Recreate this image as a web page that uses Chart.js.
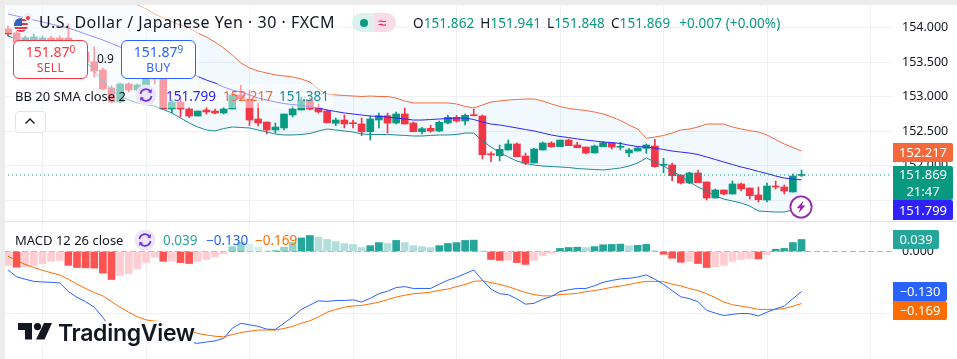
<!DOCTYPE html>
<html>
<head>
<meta charset="utf-8">
<script src="https://cdn.jsdelivr.net/npm/chart.js@4/dist/chart.umd.min.js"></script>
<style>
  html, body { margin: 0; padding: 0; background: #fff; }
  body { width: 957px; height: 359px; position: relative; overflow: hidden; font-family: "Noto Sans", sans-serif; color: #131722; }
  canvas { position: absolute; display: block; }
  .abs { position: absolute; white-space: nowrap; }
  .veil { position: absolute; background: rgba(255, 255, 255, 0.5); }
  .tag { position: absolute; left: 893px; color: #fff; font-size: 13px; text-align: center; border-radius: 0 2px 2px 0; }
  .trade { position: absolute; top: 40px; width: 73px; background: #fff; border-radius: 6px; text-align: center; border: 1px solid; font-size: 14px; line-height: 16px; padding-top: 3px; height: 34px; }
  .trade sup { font-size: 10px; line-height: 0; vertical-align: 4px; }
  .trade small { display: block; font-size: 12px; line-height: 16px; letter-spacing: 0.4px; }
</style>
</head>
<body>
<canvas id="priceChart" width="953" height="216" style="left:4px;top:5px"></canvas>
<canvas id="macdChart" width="953" height="137" style="left:4px;top:222px"></canvas>

<div class="abs" style="left:0;top:0;width:957px;height:5px;background:#ececec"></div>
<div class="abs" style="left:0;top:0;width:5px;height:359px;background:#ececec"></div>
<div class="abs" style="left:4px;top:221px;width:953px;height:1px;background:#e0e3eb"></div>

<div class="veil" style="left:5px;top:5px;width:340px;height:28px"></div>
<div class="veil" style="left:12px;top:33px;width:187px;height:51px"></div>
<div class="veil" style="left:12px;top:84px;width:321px;height:24px"></div>
<div class="veil" style="left:12px;top:229px;width:286px;height:22px"></div>

<svg class="abs" style="left:12px;top:11px" width="26" height="24" viewBox="0 0 26 24">
  <defs><clipPath id="flagClip"><circle cx="9" cy="14" r="7"/></clipPath></defs>
  <circle cx="16" cy="7" r="5" fill="#eee" /><circle cx="16" cy="7" r="2" fill="#e8334a"/>
  <circle cx="9" cy="14" r="7.6" fill="#fff"/>
  <g clip-path="url(#flagClip)">
    <rect x="2" y="7" width="14" height="14" fill="#fff"/>
    <rect x="2" y="8" width="14" height="2" fill="#e8334a"/>
    <rect x="2" y="12" width="14" height="2" fill="#e8334a"/>
    <rect x="2" y="16" width="14" height="2" fill="#e8334a"/>
    <rect x="2" y="19" width="14" height="2" fill="#e8334a"/>
    <rect x="2" y="7" width="8" height="8" fill="#2f62c8"/>
  </g>
</svg>
<div class="abs" id="title" style="left:39px;top:12px;font-size:16px;line-height:21px;letter-spacing:0.5px"></div>
<div class="abs" style="left:352px;top:13px;width:22px;height:19px;background:#daf1ed;border-radius:10px 0 0 10px"></div>
<div class="abs" style="left:374px;top:13px;width:22px;height:19px;background:#fbdbe5;border-radius:0 10px 10px 0"></div>
<div class="abs" style="left:360px;top:19px;width:8px;height:8px;background:#089981;border-radius:50%"></div>
<div class="abs" style="left:378px;top:11px;font-size:15px;line-height:22px;color:#e91e63">≈</div>
<div class="abs" id="ohlc" style="left:413px;top:13px;font-size:13.5px;line-height:20px;letter-spacing:0.1px"></div>

<div class="trade" id="sellBox" style="left:13px;border-color:#f23645;color:#f23645"></div>
<div class="abs" id="spread" style="left:97px;top:51px;font-size:12px;line-height:16px"></div>
<div class="trade" id="buyBox" style="left:121px;border-color:#2962ff;color:#2962ff"></div>

<div class="abs" id="bbName" style="left:15px;top:86px;font-size:13px;line-height:20px"></div>
<svg class="abs" style="left:135px;top:84px" width="22" height="22" viewBox="0 0 22 22">
  <circle cx="11" cy="11" r="10.5" fill="#ece6fb"/>
  <path d="M5.5 10 A5.6 5.6 0 0 1 15.6 7.6 M16.5 12 A5.6 5.6 0 0 1 6.4 14.4" fill="none" stroke="#6f2fe8" stroke-width="1.7"/>
  <path d="M16.8 5 L16.6 9.2 L12.9 8.2 Z M5.2 17 L5.4 12.8 L9.1 13.8 Z" fill="#6f2fe8"/>
</svg>
<div class="abs" id="bbMid" style="left:166px;top:86px;font-size:13.5px;line-height:20px;color:#2f22ff"></div>
<div class="abs" id="bbUp" style="left:223px;top:86px;font-size:13.5px;line-height:20px;color:#f4693c"></div>
<div class="abs" id="bbLow" style="left:279px;top:86px;font-size:13.5px;line-height:20px;color:#1b8a98"></div>
<div class="abs" style="left:15px;top:111px;width:29px;height:20px;border:1px solid #e0e3eb;border-radius:4px;background:#fff"></div>
<svg class="abs" style="left:24px;top:117px" width="12" height="8" viewBox="0 0 12 8"><path d="M1.5 6.5 L6 2 L10.5 6.5" fill="none" stroke="#131722" stroke-width="1.4"/></svg>

<svg class="abs" style="left:789px;top:195px" width="24" height="24" viewBox="0 0 24 24">
  <circle cx="12" cy="12" r="10.6" fill="#fff" stroke="#9c27b0" stroke-width="1.8"/>
  <path d="M14.5 5.8 L7.6 13.3 L11.2 13.3 L9.5 18.2 L16.4 10.6 L12.8 10.6 Z" fill="#9c27b0"/>
</svg>

<div class="abs" id="macdName" style="left:15px;top:230px;font-size:13px;line-height:20px"></div>
<svg class="abs" style="left:134px;top:229px" width="22" height="22" viewBox="0 0 22 22">
  <circle cx="11" cy="11" r="10.5" fill="#ece6fb"/>
  <path d="M5.5 10 A5.6 5.6 0 0 1 15.6 7.6 M16.5 12 A5.6 5.6 0 0 1 6.4 14.4" fill="none" stroke="#6f2fe8" stroke-width="1.7"/>
  <path d="M16.8 5 L16.6 9.2 L12.9 8.2 Z M5.2 17 L5.4 12.8 L9.1 13.8 Z" fill="#6f2fe8"/>
</svg>
<div class="abs" id="histVal" style="left:163px;top:230px;font-size:13.5px;line-height:20px;color:#26a69a"></div>
<div class="abs" id="macdVal" style="left:206px;top:230px;font-size:13.5px;line-height:20px;color:#2962ff"></div>
<div class="abs" id="signalVal" style="left:255px;top:230px;font-size:13.5px;line-height:20px;color:#ff6d00"></div>

<div class="abs" style="left:16px;top:321px;width:178px;height:25px;background:#fff"></div>
<svg class="abs" style="left:18px;top:323px" width="34" height="17" viewBox="0 0 34 17">
  <path d="M0 0 H14 V16.5 H7 V7 H0 Z" fill="#131722"/><circle cx="19.5" cy="3.6" r="3.6" fill="#131722"/>
  <path d="M26 0 H34 L26.5 16.5 H18 Z" fill="#131722"/>
</svg>
<div class="abs" id="brand" style="left:58px;top:318px;font-family:Inter,'Noto Sans',sans-serif;font-weight:600;font-size:23px;line-height:30px;letter-spacing:-0.3px;color:#131722"></div>

<div class="tag" id="tagUp" style="top:143px;width:60px;height:19px;line-height:19px;background:#f4693c"></div>
<div class="tag" id="tagLast" style="top:166px;width:60px;height:34px;line-height:17px;background:#089981"></div>
<div class="tag" id="tagMid" style="top:200px;width:60px;height:20px;line-height:20px;background:#2f22ff"></div>
<div class="tag" id="tagHist" style="top:230px;width:46px;height:19px;line-height:19px;background:#26a69a"></div>
<div class="tag" id="tagMacd" style="top:282px;width:54px;height:19px;line-height:19px;background:#2962ff"></div>
<div class="tag" id="tagSignal" style="top:301px;width:54px;height:19px;line-height:19px;background:#ff6d00"></div>

<script>
const titleText = "U.S. Dollar / Japanese Yen · 30 · FXCM";
const bbName = "BB 20 SMA close 2";
const macdName = "MACD 12 26 close";
const countdown = "21:47";
const sellPrice = "151.87", sellPip = "0";
const buyPrice = "151.87", buyPip = "9";
const spreadText = "0.9";

const priceTicks = [154, 153.5, 153, 152.5, 152, 151.5];
const macdTicks = [0, -0.2];
// one vertical grid line every 12 bars
const gridBars = [4, 16, 28, 40, 52, 64, 76, 88, 100];

const opens = [
  153.978,153.921,153.819,153.819,153.819,153.848,153.848,153.848,153.733,153.646,
  153.506,153.386,153.126,152.923,153.184,153.097,153.155,153.285,153.285,152.822,
  152.923,152.822,152.721,152.808,152.793,152.764,152.822,153.025,152.967,152.678,
  152.634,152.519,152.548,152.736,152.808,152.952,152.837,152.793,152.616,152.663,
  152.624,152.606,152.494,152.663,152.725,152.62,152.75,152.62,152.494,152.544,
  152.504,152.62,152.702,152.649,152.736,152.721,152.176,152.147,152.23,152.317,
  152.143,152.042,152.23,152.331,152.278,152.374,152.302,152.273,152.187,152.278,
  152.331,152.269,152.187,152.215,152.254,152.288,152.009,152.013,151.869,151.753,
  151.898,151.768,151.536,151.652,151.594,151.739,151.681,151.58,151.507,151.71,
  151.695,151.623,151.862];
const highs = [
  154.022,153.95,153.877,153.906,153.877,153.877,153.877,154.05,153.762,153.675,
  153.718,153.415,153.155,153.198,153.198,153.184,153.357,153.386,153.357,152.952,
  152.981,152.851,152.793,152.851,152.822,152.851,153.054,153.169,153.097,152.909,
  152.634,152.62,152.75,152.866,152.996,152.981,152.895,152.808,152.692,152.736,
  152.663,152.692,152.721,152.764,152.764,152.779,152.837,152.634,152.558,152.587,
  152.649,152.731,152.731,152.75,152.822,152.736,152.205,152.302,152.374,152.335,
  152.187,152.254,152.345,152.35,152.374,152.389,152.341,152.273,152.302,152.35,
  152.341,152.341,152.254,152.269,152.317,152.385,152.11,152.042,151.869,151.908,
  151.941,151.768,151.666,151.652,151.782,151.753,151.681,151.695,151.753,151.782,
  151.724,151.883,151.941];
const lows = [
  153.877,153.763,153.805,153.805,153.805,153.805,153.805,153.675,153.588,153.472,
  153.285,153.097,152.909,152.909,153.068,153.068,153.155,153.184,152.822,152.765,
  152.707,152.7,152.721,152.75,152.75,152.75,152.822,152.952,152.584,152.577,
  152.461,152.476,152.519,152.707,152.808,152.808,152.765,152.62,152.581,152.548,
  152.548,152.436,152.374,152.548,152.476,152.606,152.606,152.494,152.461,152.49,
  152.494,152.606,152.634,152.591,152.725,152.1,152.061,152.075,152.23,152.133,
  152.017,152.042,152.23,152.269,152.278,152.292,152.263,152.172,152.187,152.278,
  152.244,152.23,152.133,152.215,152.183,151.98,151.902,151.786,151.739,151.743,
  151.757,151.507,151.536,151.58,151.594,151.638,151.522,151.478,151.478,151.666,
  151.594,151.623,151.848];
const closes = [
  153.906,153.776,153.853,153.863,153.848,153.819,153.819,153.733,153.646,153.501,
  153.371,153.111,152.923,153.184,153.097,153.169,153.285,153.256,152.822,152.923,
  152.822,152.721,152.793,152.779,152.764,152.822,153.025,152.967,152.663,152.62,
  152.519,152.562,152.75,152.822,152.952,152.822,152.779,152.624,152.663,152.606,
  152.61,152.494,152.678,152.725,152.62,152.75,152.606,152.494,152.538,152.504,
  152.63,152.702,152.649,152.731,152.725,152.162,152.158,152.24,152.317,152.133,
  152.042,152.244,152.331,152.278,152.374,152.292,152.263,152.187,152.288,152.335,
  152.273,152.278,152.23,152.259,152.302,151.989,152.017,151.859,151.753,151.898,
  151.757,151.536,151.652,151.594,151.739,151.666,151.57,151.512,151.71,151.695,
  151.638,151.854,151.869];

const bbUpper = [
  154.96,154.95,154.94,154.92,154.90,154.87,154.84,154.80,154.76,154.71,
  154.65,154.59,154.52,154.45,154.38,154.325,154.27,154.195,154.137,154.08,
  154.036,153.993,153.92,153.863,153.79,153.704,153.603,153.487,153.415,153.372,
  153.343,153.314,153.30,153.285,153.256,153.212,153.11,153.04,153.025,153.018,
  153.01,153.003,153.01,153.003,153.003,152.98,152.938,152.91,152.91,152.91,
  152.91,152.91,152.895,152.86,152.837,152.88,152.924,152.938,152.952,152.96,
  152.967,152.967,152.938,152.895,152.858,152.83,152.815,152.80,152.779,152.75,
  152.707,152.656,152.59,152.533,152.40,152.417,152.44,152.475,152.52,152.533,
  152.562,152.605,152.605,152.605,152.562,152.533,152.51,152.49,152.447,152.38,
  152.317,152.266,152.217];
const bbBasis = [
  154.195,154.166,154.137,154.108,154.08,154.05,154.02,153.993,153.95,153.906,
  153.863,153.819,153.769,153.718,153.675,153.632,153.588,153.545,153.494,153.444,
  153.393,153.343,153.292,153.241,153.198,153.14,153.097,153.068,153.025,152.981,
  152.952,152.923,152.90,152.887,152.873,152.851,152.837,152.808,152.786,152.765,
  152.75,152.736,152.721,152.714,152.707,152.692,152.678,152.663,152.663,152.67,
  152.678,152.685,152.692,152.692,152.67,152.634,152.605,152.591,152.57,152.548,
  152.526,152.505,152.476,152.447,152.425,152.41,152.39,152.374,152.36,152.345,
  152.338,152.324,152.30,152.28,152.273,152.258,152.237,152.215,152.20,152.186,
  152.165,152.129,152.093,152.056,152.02,151.984,151.955,151.92,151.89,151.854,
  151.825,151.81,151.799];
const bbLower = [
  153.877,153.834,153.79,153.747,153.718,153.69,153.66,153.63,153.588,153.516,
  153.37,153.227,153.097,153.01,152.952,152.91,152.887,152.866,152.815,152.765,
  152.692,152.62,152.562,152.519,152.505,152.54,152.562,152.555,152.548,152.519,
  152.49,152.461,152.447,152.447,152.454,152.468,152.505,152.533,152.519,152.505,
  152.49,152.461,152.454,152.454,152.454,152.447,152.44,152.432,152.432,152.44,
  152.447,152.447,152.454,152.475,152.475,152.36,152.273,152.194,152.129,152.07,
  152.035,152.013,151.998,151.991,151.984,151.977,151.962,151.955,151.948,151.941,
  151.955,151.97,151.998,152.042,152.114,152.056,151.998,151.926,151.854,151.768,
  151.695,151.638,151.565,151.52,151.493,151.464,151.42,151.349,151.34,151.334,
  151.334,151.363,151.381];

const macdHist = [
  -0.045,-0.051,-0.049,-0.045,-0.04,-0.032,-0.029,-0.045,-0.052,-0.053,
  -0.054,-0.07,-0.091,-0.078,-0.072,-0.056,-0.036,-0.019,-0.032,-0.031,
  -0.036,-0.039,-0.032,-0.026,-0.018,-0.007,0.016,0.03,0.023,0.014,
  0.003,0.004,0.014,0.03,0.044,0.052,0.047,0.039,0.032,0.026,
  0.023,0.013,0.019,0.029,0.026,0.036,0.029,0.019,0.016,0.013,
  0.019,0.026,0.029,0.036,0.037,0.001,-0.026,-0.029,-0.028,-0.036,
  -0.042,-0.029,-0.013,-0.006,0.01,0.013,0.014,0.013,0.016,0.022,
  0.023,0.024,0.019,0.02,0.023,0.003,-0.009,-0.022,-0.035,-0.032,
  -0.039,-0.052,-0.049,-0.045,-0.032,-0.026,-0.023,-0.024,-0.01,0.007,
  0.01,0.029,0.039];
const macdLine = [
  -0.06,-0.082,-0.09,-0.097,-0.099,-0.1,-0.102,-0.13,-0.149,-0.163,
  -0.181,-0.214,-0.254,-0.259,-0.269,-0.268,-0.258,-0.245,-0.26,-0.266,
  -0.28,-0.295,-0.298,-0.294,-0.29,-0.282,-0.249,-0.233,-0.238,-0.243,
  -0.252,-0.253,-0.233,-0.212,-0.188,-0.174,-0.16,-0.162,-0.159,-0.159,
  -0.157,-0.164,-0.152,-0.137,-0.129,-0.117,-0.114,-0.12,-0.12,-0.12,
  -0.106,-0.093,-0.084,-0.072,-0.06,-0.093,-0.122,-0.137,-0.14,-0.154,
  -0.171,-0.168,-0.155,-0.146,-0.13,-0.124,-0.12,-0.12,-0.111,-0.1,
  -0.094,-0.089,-0.087,-0.083,-0.076,-0.09,-0.107,-0.127,-0.147,-0.153,
  -0.163,-0.191,-0.2,-0.208,-0.204,-0.201,-0.202,-0.209,-0.197,-0.186,
  -0.177,-0.153,-0.13];
const signalLine = [
  -0.015,-0.03,-0.042,-0.052,-0.061,-0.069,-0.076,-0.09,-0.106,-0.12,
  -0.133,-0.144,-0.163,-0.181,-0.197,-0.212,-0.222,-0.226,-0.228,-0.235,
  -0.244,-0.256,-0.266,-0.271,-0.275,-0.277,-0.27,-0.263,-0.259,-0.255,
  -0.255,-0.255,-0.25,-0.243,-0.233,-0.225,-0.212,-0.197,-0.188,-0.181,
  -0.177,-0.175,-0.17,-0.165,-0.156,-0.148,-0.142,-0.137,-0.135,-0.132,
  -0.126,-0.122,-0.114,-0.107,-0.097,-0.095,-0.101,-0.107,-0.114,-0.124,
  -0.133,-0.14,-0.144,-0.144,-0.14,-0.138,-0.136,-0.13,-0.127,-0.122,
  -0.116,-0.112,-0.107,-0.101,-0.097,-0.097,-0.098,-0.106,-0.112,-0.12,
  -0.127,-0.137,-0.15,-0.164,-0.173,-0.177,-0.182,-0.188,-0.188,-0.188,
  -0.185,-0.178,-0.169];

const GREEN = "#089981", RED = "#f23645";
const fmt = v => v.toFixed(3);
const signed = v => (v < 0 ? "\u2212" : "") + Math.abs(v).toFixed(3);
const last = a => a[a.length - 1];
const series = a => a.map((v, i) => ({ x: i, y: v }));
const candleColors = opens.map((o, i) => closes[i] >= o ? GREEN : RED);

// same horizontal window on both panes: 8.625px a bar on an 888px wide plot
const xWindow = { type: "linear", min: -0.464, max: 102.49, offset: false, display: true,
  afterBuildTicks: s => { s.ticks = gridBars.map(v => ({ value: v })); },
  ticks: { display: false },
  border: { display: false },
  grid: { color: "#eff1f5", drawTicks: false, offset: false } };

function yAxis(min, max, ticks) {
  return { position: "right", min, max,
    afterBuildTicks: s => { s.ticks = ticks.map(v => ({ value: v })); },
    // keep the plot the full pane height, labels may sit at the edge
    afterFit: s => { s.width = 65; s.paddingTop = 0; s.paddingBottom = 0; },
    border: { display: false },
    ticks: { padding: 10, color: "#131722", font: { family: "Noto Sans", size: 12.5 }, callback: v => signed(v) },
    grid: { color: c => c.tick && c.tick.value === 0 ? "rgba(0,0,0,0)" : "#eff1f5", drawTicks: false } };
}

function lineSet(values, color, extra) {
  return Object.assign({ type: "line", data: series(values), borderColor: color, borderWidth: 1,
    pointRadius: 0, tension: 0, fill: false, order: 1 }, extra);
}

const baseOptions = { responsive: false, animation: false, events: [],
  layout: { padding: 0, autoPadding: false },
  plugins: { legend: { display: false }, tooltip: { enabled: false }, filler: { drawTime: "beforeDatasetsDraw" } } };

new Chart(document.getElementById("priceChart"), {
  type: "bar",
  data: { datasets: [
    lineSet(bbUpper, "#f4693c", { fill: "+1", backgroundColor: "rgba(33,150,243,0.06)" }),
    lineSet(bbLower, "#1b8a98"),
    lineSet(bbBasis, "#2f22ff"),
    { type: "line", data: [{ x: xWindow.min, y: last(closes) }, { x: xWindow.max, y: last(closes) }],
      borderColor: GREEN, borderWidth: 1, borderDash: [1, 3], pointRadius: 0, order: 0 },
    { data: lows.map((v, i) => ({ x: i, y: [v, highs[i]] })), backgroundColor: candleColors,
      barThickness: 1, grouped: false, order: 3 },
    { data: opens.map((v, i) => ({ x: i, y: [v, closes[i]] })), backgroundColor: candleColors,
      barThickness: 7, minBarLength: 1, grouped: false, order: 2 }
  ] },
  options: Object.assign({}, baseOptions, { scales: { x: xWindow, y: yAxis(151.204, 154.325, priceTicks) } })
});

const histColors = macdHist.map((v, i) => {
  const prev = i ? macdHist[i - 1] : v;
  if (v >= 0) return v > prev ? "#26a69a" : "#b2dfdb";
  return v < prev ? "#ff5252" : "#ffcdd2";
});

new Chart(document.getElementById("macdChart"), {
  type: "bar",
  data: { datasets: [
    lineSet(macdLine, "#2962ff"),
    lineSet(signalLine, "#ff6d00"),
    { type: "line", data: [{ x: xWindow.min, y: 0 }, { x: xWindow.max, y: 0 }],
      borderColor: "#b2b5be", borderWidth: 1, borderDash: [6, 3], pointRadius: 0, order: 4 },
    { data: series(macdHist), backgroundColor: histColors, barThickness: 7, grouped: false, order: 2 }
  ] },
  options: Object.assign({}, baseOptions, { scales: { x: xWindow, y: yAxis(-0.349, 0.0958, macdTicks) } })
});

// text around the panes
const setText = (id, t) => { document.getElementById(id).textContent = t; };
setText("title", titleText);
setText("spread", spreadText);
setText("bbName", bbName);
setText("macdName", macdName);
setText("bbMid", fmt(last(bbBasis)));
setText("bbUp", fmt(last(bbUpper)));
setText("bbLow", fmt(last(bbLower)));
setText("histVal", fmt(last(macdHist)));
setText("macdVal", signed(last(macdLine)));
setText("signalVal", signed(last(signalLine)));
setText("tagUp", fmt(last(bbUpper)));
setText("tagMid", fmt(last(bbBasis)));
setText("tagHist", fmt(last(macdHist)));
setText("tagMacd", signed(last(macdLine)));
setText("tagSignal", signed(last(signalLine)));
setText("brand", "TradingView");
document.getElementById("tagLast").innerHTML = fmt(last(closes)) + "<br>" + countdown;
document.getElementById("sellBox").innerHTML = sellPrice + "<sup>" + sellPip + "</sup><small>SELL</small>";
document.getElementById("buyBox").innerHTML = buyPrice + "<sup>" + buyPip + "</sup><small>BUY</small>";

const lastOpen = last(opens), lastClose = last(closes);
const change = lastClose - lastOpen;
const num = t => '<span style="color:' + GREEN + '">' + t + "</span>";
document.getElementById("ohlc").innerHTML =
  "O" + num(fmt(lastOpen)) + '<span style="margin-left:6px">H</span>' + num(fmt(last(highs))) +
  '<span style="margin-left:6px">L</span>' + num(fmt(last(lows))) +
  '<span style="margin-left:6px">C</span>' + num(fmt(lastClose)) +
  '<span style="margin-left:9px"></span>' + num("+" + fmt(change) + " (+0.00%)");
</script>
</body>
</html>
